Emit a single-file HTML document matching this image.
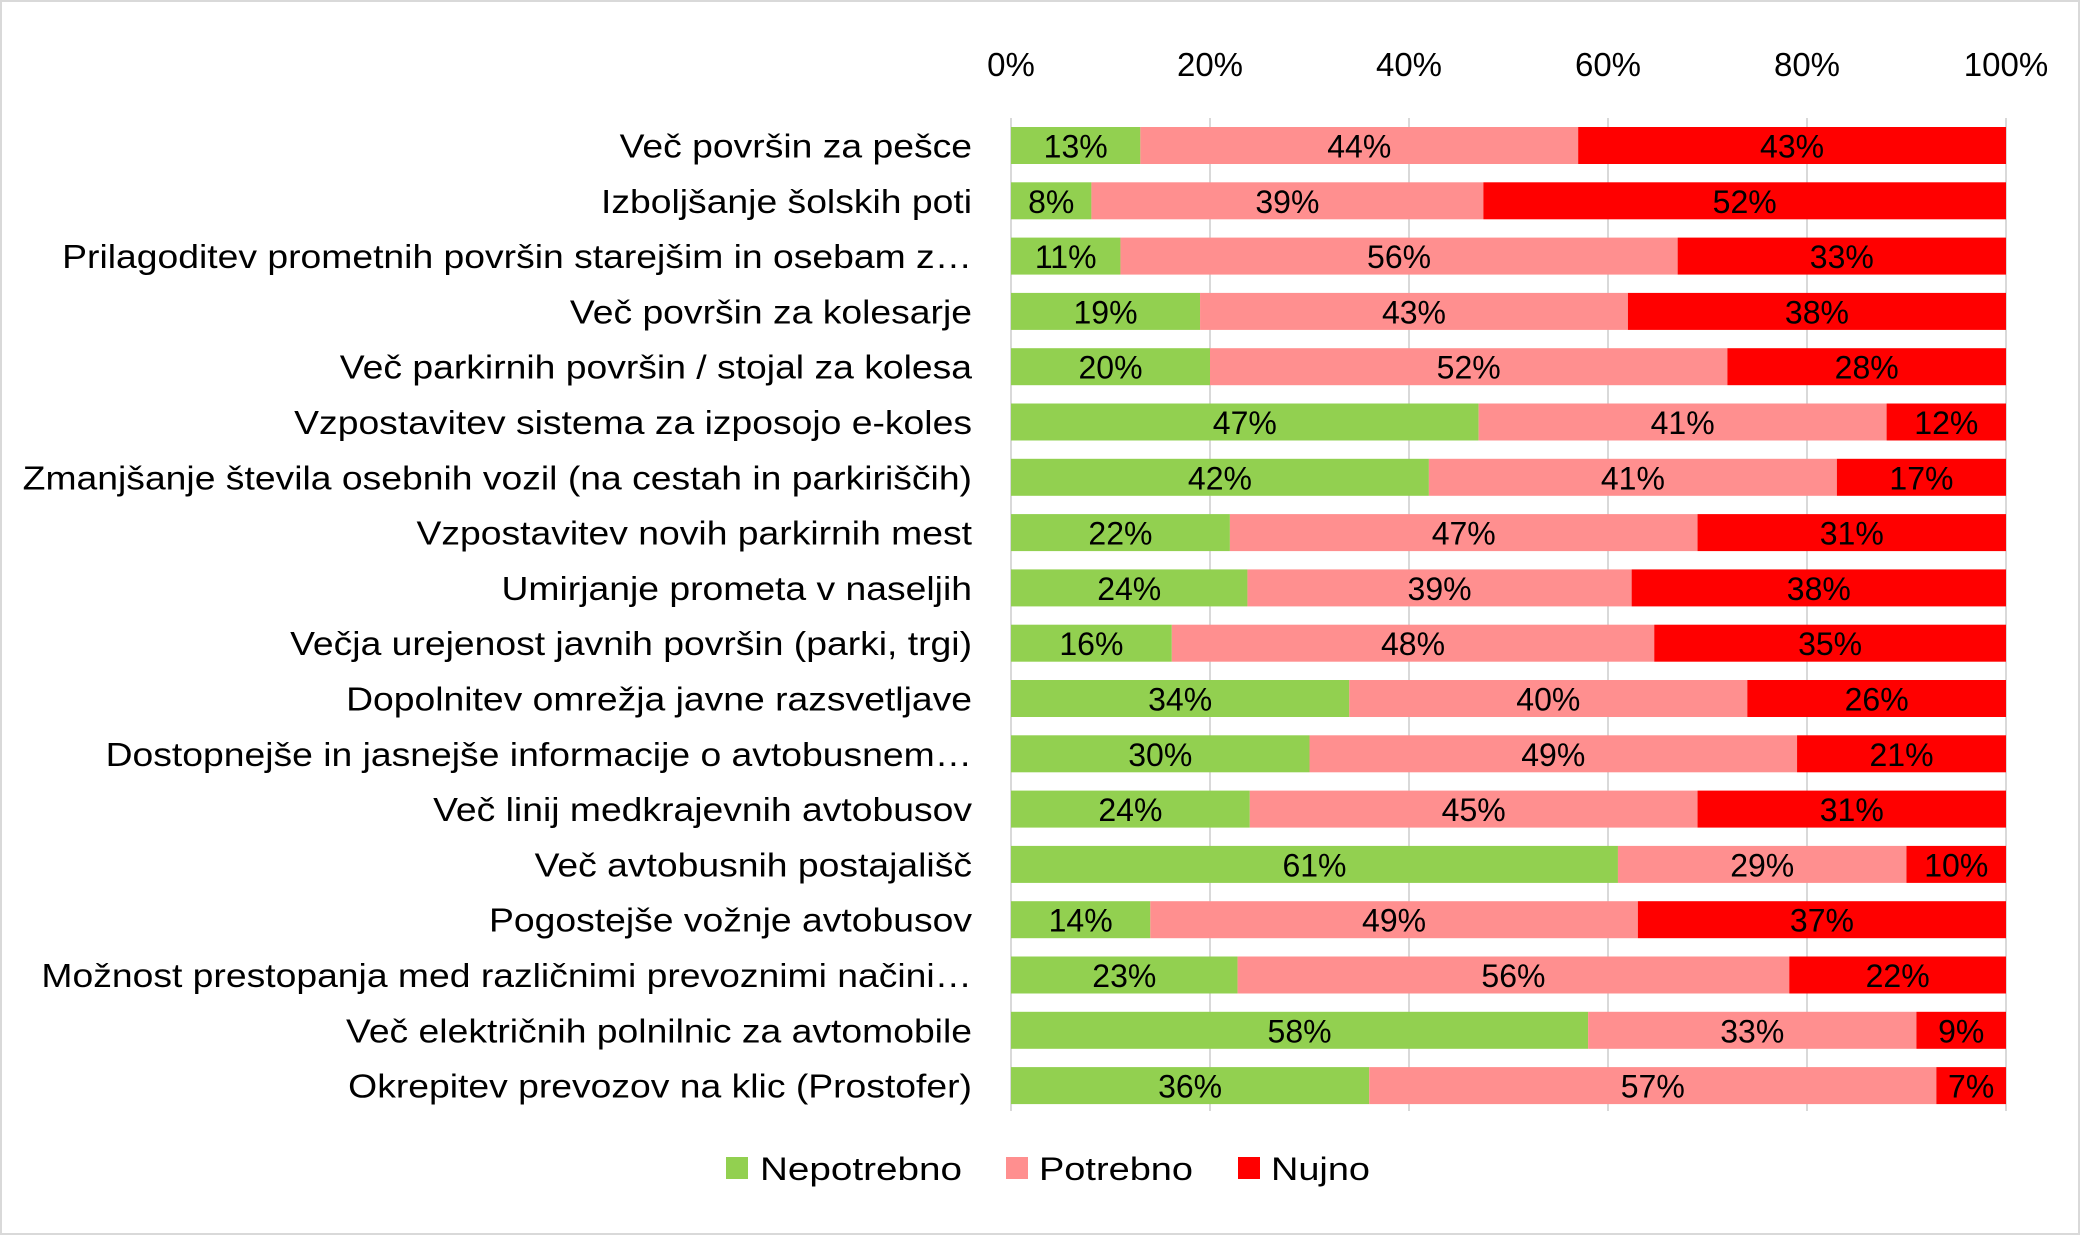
<!DOCTYPE html>
<html><head><meta charset="utf-8"><style>
html,body{margin:0;padding:0;background:#fff}
svg{display:block}
text{font-family:"Liberation Sans",sans-serif;fill:#000}
</style></head><body>
<svg id="s" width="2081" height="1237" viewBox="0 0 2081 1237" xmlns="http://www.w3.org/2000/svg">
<rect x="1" y="1" width="2078" height="1233" fill="#fff" stroke="#d9d9d9" stroke-width="2"/>
<g id="g"></g>
<g font-size="32">
<rect x="726" y="1157" width="22" height="22" fill="#92d050"/><text x="760" y="1180" textLength="202" lengthAdjust="spacingAndGlyphs">Nepotrebno</text>
<rect x="1006" y="1157" width="22" height="22" fill="#ff8f8f"/><text x="1039" y="1180" textLength="154" lengthAdjust="spacingAndGlyphs">Potrebno</text>
<rect x="1238" y="1157" width="22" height="22" fill="#ff0000"/><text x="1271" y="1180" textLength="99" lengthAdjust="spacingAndGlyphs">Nujno</text>
</g>
</svg>
<script>
var data=[
["Več površin za pešce",13,44,43],
["Izboljšanje šolskih poti",8,39,52],
["Prilagoditev prometnih površin starejšim in osebam z…",11,56,33],
["Več površin za kolesarje",19,43,38],
["Več parkirnih površin / stojal za kolesa",20,52,28],
["Vzpostavitev sistema za izposojo e-koles",47,41,12],
["Zmanjšanje števila osebnih vozil (na cestah in parkiriščih)",42,41,17],
["Vzpostavitev novih parkirnih mest",22,47,31],
["Umirjanje prometa v naseljih",24,39,38],
["Večja urejenost javnih površin (parki, trgi)",16,48,35],
["Dopolnitev omrežja javne razsvetljave",34,40,26],
["Dostopnejše in jasnejše informacije o avtobusnem…",30,49,21],
["Več linij medkrajevnih avtobusov",24,45,31],
["Več avtobusnih postajališč",61,29,10],
["Pogostejše vožnje avtobusov",14,49,37],
["Možnost prestopanja med različnimi prevoznimi načini…",23,56,22],
["Več električnih polnilnic za avtomobile",58,33,9],
["Okrepitev prevozov na klic (Prostofer)",36,57,7]];
var x0=1011,x1=2006,W=x1-x0,top0=127,pitch=55.3,bh=37;
var h='';
for(var i=0;i<=5;i++){var x=x0+W*i/5;
h+='<line x1="'+x+'" y1="118" x2="'+x+'" y2="1111" stroke="#d9d9d9" stroke-width="2"/>';
h+='<text x="'+x+'" y="76" font-size="33" text-anchor="middle">'+(i*20)+'%</text>';}
var cols=["#92d050","#ff8f8f","#ff0000"];
data.forEach(function(d,r){
var y=top0+r*pitch,s=d[1]+d[2]+d[3],c=0;
h+='<text class="lab" x="972" y="'+(y+bh/2+12)+'" font-size="33" text-anchor="end">'+d[0]+'</text>';
for(var k=0;k<3;k++){var a=x0+W*c/s;c+=d[k+1];var b=x0+W*c/s;
h+='<rect x="'+a+'" y="'+y+'" width="'+(b-a)+'" height="'+bh+'" fill="'+cols[k]+'"/>';
h+='<text x="'+((a+b)/2)+'" y="'+(y+bh/2+12)+'" font-size="32" text-anchor="middle">'+d[k+1]+'%</text>';}
});
document.getElementById('g').innerHTML=h;
var labs=document.querySelectorAll('.lab');
for(var j=0;j<labs.length;j++){var L=labs[j].getComputedTextLength();
labs[j].setAttribute('textLength',(L*1.13).toFixed(1));labs[j].setAttribute('lengthAdjust','spacingAndGlyphs');}
</script>
</body></html>
